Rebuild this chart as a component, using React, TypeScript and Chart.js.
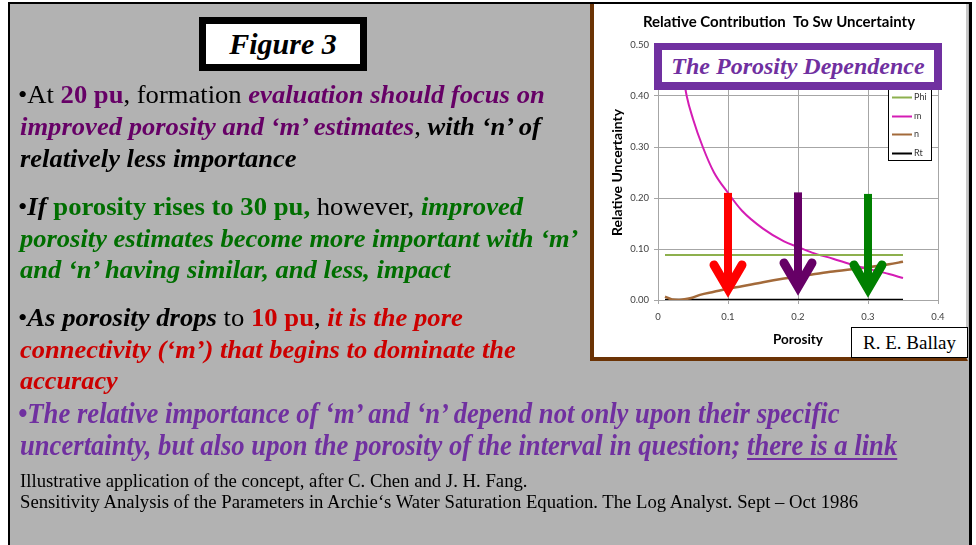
import React, { useEffect, useLayoutEffect, useRef, useState } from "react";
import { Chart, registerables } from "chart.js";
Chart.register(...registerables);

// ---------- data ----------
const porosityTicks = [0, 0.1, 0.2, 0.3, 0.4];
const porosityTickLabels = ["0", "0.1", "0.2", "0.3", "0.4"];
const uncertaintyTicks = [0, 0.1, 0.2, 0.3, 0.4, 0.5];
const uncertaintyTickLabels = ["0.00", "0.10", "0.20", "0.30", "0.40", "0.50"];

const seriesLabels = ["Phi", "m", "n", "Rt"];
const seriesColors = ["#8db04e", "#d41cb4", "#a36a3a", "#000000"];

const phiPorosity = [0.01, 0.35];
const phiValues = [0.088, 0.088];

const mPorosity = [0.025, 0.03, 0.035, 0.041, 0.05, 0.064, 0.08, 0.1, 0.12, 0.15, 0.18, 0.2, 0.22, 0.25, 0.28, 0.3, 0.33, 0.35];
const mValues = [0.6, 0.5, 0.45, 0.4, 0.355, 0.3, 0.25, 0.21, 0.175, 0.14, 0.115, 0.104, 0.093, 0.081, 0.068, 0.061, 0.051, 0.043];

const nPorosity = [0.01, 0.02, 0.03, 0.04, 0.05, 0.06, 0.08, 0.1, 0.12, 0.15, 0.18, 0.2, 0.22, 0.25, 0.28, 0.3, 0.33, 0.35];
const nValues = [0.0065, 0.001, 0.0, 0.002, 0.005, 0.01, 0.016, 0.022, 0.027, 0.035, 0.042, 0.046, 0.05, 0.056, 0.061, 0.064, 0.07, 0.075];

const rtPorosity = [0.01, 0.35];
const rtValues = [0, 0];

const arrowPorosity = [0.1, 0.2, 0.3];
const arrowTop = [0.21, 0.211, 0.208];
const arrowTip = [0.006, 0.01, 0.006];
const arrowColors = ["#ff0000", "#660066", "#008000"];

const chartTitle = "Relative Contribution  To Sw Uncertainty";
const xTitle = "Porosity";
const yTitle = "Relative Uncertainty";

const SERIF = '"Liberation Serif", "Times New Roman", serif';
const SANS = 'Lato, "Open Sans", sans-serif';

const PURPLE = "#660066";
const GREEN = "#006e00";
const RED = "#cc0000";
const VIOLET = "#7030a0";

type Seg = { t: string; c?: string; b?: boolean; i?: boolean; u?: boolean };

function FitLine(props: { left: number; cy: number; right: number; size: number; segs: Seg[] }) {
  const { left, cy, right, size, segs } = props;
  const ref = useRef<HTMLDivElement>(null);
  const [s, setS] = useState(1);
  useLayoutEffect(() => {
    const measure = () => {
      const el = ref.current;
      if (!el) return;
      const w = el.offsetWidth;
      if (w > 0) setS((right - left) / w);
    };
    measure();
    const f: any = (document as any).fonts;
    if (f && f.ready) f.ready.then(measure);
  }, []);
  const lh = Math.round(size * 1.25);
  return (
    <div
      ref={ref}
      style={{
        position: "absolute",
        left,
        top: cy - lh / 2 - size * 0.1 + 2,
        whiteSpace: "nowrap",
        fontFamily: SERIF,
        fontSize: size,
        lineHeight: lh + "px",
        transform: `scaleX(${s})`,
        transformOrigin: "left center",
        color: "#000",
      }}
    >
      {segs.map((g, k) => (
        <span
          key={k}
          style={{
            color: g.c || "#000",
            fontWeight: g.b ? "bold" : "normal",
            fontStyle: g.i ? "italic" : "normal",
            textDecoration: g.u ? "underline" : "none",
            textDecorationThickness: g.u ? "2px" : undefined,
            textUnderlineOffset: g.u ? "3px" : undefined,
          }}
        >
          {g.t}
        </span>
      ))}
    </div>
  );
}

function UncertaintyChart() {
  const canvasRef = useRef<HTMLCanvasElement>(null);
  useEffect(() => {
    const canvas = canvasRef.current;
    if (!canvas) return;
    const pts = (xs: number[], ys: number[]) => xs.map((x, i) => ({ x, y: ys[i] }));
    const seriesData = [
      pts(phiPorosity, phiValues),
      pts(mPorosity, mValues),
      pts(nPorosity, nValues),
      pts(rtPorosity, rtValues),
    ];
    const widths = [2, 2, 2.5, 2.5];

    const arrowsPlugin = {
      id: "arrows",
      afterDatasetsDraw(chart: any) {
        const { ctx } = chart;
        const xs = chart.scales.x;
        const ys = chart.scales.y;
        ctx.save();
        arrowPorosity.forEach((p, i) => {
          const x = xs.getPixelForValue(p);
          const yTop = ys.getPixelForValue(arrowTop[i]);
          const yTip = ys.getPixelForValue(arrowTip[i]);
          const vertex = yTip - 8;
          ctx.fillStyle = arrowColors[i];
          ctx.fillRect(x - 4, yTop, 8, vertex - yTop);
          ctx.strokeStyle = arrowColors[i];
          ctx.lineWidth = 9;
          ctx.lineJoin = "miter";
          ctx.lineCap = "round";
          ctx.beginPath();
          ctx.moveTo(x - 14, vertex - 24);
          ctx.lineTo(x, vertex);
          ctx.lineTo(x + 14, vertex - 24);
          ctx.stroke();
        });
        ctx.restore();
      },
    };

    const legendPlugin = {
      id: "legendBox",
      afterDraw(chart: any) {
        const { ctx } = chart;
        const right = chart.chartArea.right - 6;
        const left = right - 44;
        const top = 78;
        const bottom = 155;
        ctx.save();
        ctx.fillStyle = "#ffffff";
        ctx.fillRect(left, top, right - left, bottom - top);
        ctx.strokeStyle = "#000000";
        ctx.lineWidth = 1;
        ctx.strokeRect(left + 0.5, top + 0.5, right - left - 1, bottom - top - 1);
        chart.data.datasets.forEach((ds: any, i: number) => {
          const y = Math.round(91 + i * 18.7) + 0.5;
          ctx.strokeStyle = ds.borderColor;
          ctx.lineWidth = 2;
          ctx.beginPath();
          ctx.moveTo(left + 4, y);
          ctx.lineTo(left + 24, y);
          ctx.stroke();
          ctx.fillStyle = "#333333";
          ctx.font = `9px ${SANS}`;
          ctx.textBaseline = "middle";
          ctx.textAlign = "left";
          ctx.fillText(ds.label, left + 26, y);
        });
        ctx.restore();
      },
    };

    const chart = new Chart(canvas, {
      type: "line",
      data: {
        datasets: seriesLabels.map((label, i) => ({
          label,
          data: seriesData[i],
          borderColor: seriesColors[i],
          backgroundColor: seriesColors[i],
          borderWidth: widths[i],
          pointRadius: 0,
          cubicInterpolationMode: "monotone",
          fill: false,
          yAxisID: "y",
        })),
      },
      options: {
        animation: false,
        responsive: false,
        devicePixelRatio: 1,
        layout: { padding: { left: 0, right: 0, top: 0, bottom: 0 } },
        plugins: {
          legend: { display: false },
          tooltip: { enabled: false },
          title: {
            display: true,
            text: chartTitle,
            color: "#000",
            font: { family: SANS, size: 15, weight: "bold" },
            padding: { top: 7, bottom: 14 },
          },
        },
        scales: {
          x: {
            type: "linear",
            min: 0,
            max: 0.4,
            afterBuildTicks: (s: any) => {
              s.ticks = porosityTicks.map((v) => ({ value: v }));
            },
            afterFit: (s: any) => {
              s.height = 57;
            },
            ticks: {
              color: "#404040",
              font: { family: SANS, size: 9.5 },
              padding: 7,
              maxRotation: 0,
              callback: (v: any) => {
                const k = porosityTicks.indexOf(Number(v));
                return k >= 0 ? porosityTickLabels[k] : "";
              },
            },
            grid: { color: "#a6a6a6", tickLength: 4 },
            border: { color: "#a6a6a6" },
            title: {
              display: true,
              text: xTitle,
              color: "#000",
              font: { family: SANS, size: 13.5, weight: "bold" },
              padding: { top: 0, bottom: 8.9 },
            },
          },
          y: {
            type: "linear",
            position: "left",
            min: 0,
            max: 0.5,
            afterBuildTicks: (s: any) => {
              s.ticks = uncertaintyTicks.map((v) => ({ value: v }));
            },
            afterFit: (s: any) => {
              s.width = 64;
            },
            ticks: {
              color: "#404040",
              font: { family: SANS, size: 9.5 },
              padding: 5,
              callback: (v: any) => {
                const k = uncertaintyTicks.findIndex((t) => Math.abs(t - Number(v)) < 1e-9);
                return k >= 0 ? uncertaintyTickLabels[k] : "";
              },
            },
            grid: { color: "#a6a6a6", tickLength: 4 },
            border: { color: "#a6a6a6" },
            title: {
              display: true,
              text: yTitle,
              color: "#000",
              font: { family: SANS, size: 14, weight: "bold" },
              padding: { top: 14.6, bottom: 0 },
            },
          },
          spacer: {
            type: "linear",
            position: "right",
            min: 0,
            max: 0.5,
            display: true,
            grid: { display: false, drawTicks: false },
            border: { display: false },
            ticks: { display: false },
            afterFit: (s: any) => {
              s.width = 26;
            },
          },
        },
      } as any,
      plugins: [arrowsPlugin, legendPlugin],
    });
    return () => chart.destroy();
  }, []);
  return <canvas ref={canvasRef} width={370} height={351} style={{ display: "block" }} />;
}

export default function App() {
  const S = 26;
  return (
    <div style={{ position: "absolute", left: 0, top: 0, width: 976, height: 545, overflow: "hidden", background: "#ffffff" }}>
      {/* slide */}
      <div
        style={{
          position: "absolute",
          left: 8,
          top: 2,
          width: 964,
          height: 543,
          boxSizing: "border-box",
          background: "#b2b2b2",
          borderLeft: "2px solid #000",
          borderTop: "2px solid #000",
          borderRight: "3px solid #000",
        }}
      />
      {/* chart panel */}
      <div
        style={{
          position: "absolute",
          left: 590,
          top: 3,
          width: 378,
          height: 358,
          boxSizing: "border-box",
          background: "#ffffff",
          borderLeft: "4px solid #6b3305",
          borderBottom: "4px solid #6b3305",
          borderRight: "2px solid #c8c8c8",
        }}
      />
      <div style={{ position: "absolute", left: 594, top: 6, width: 370, height: 351 }}>
        <UncertaintyChart />
      </div>
      {/* slide frame on top */}
      <div
        style={{
          position: "absolute",
          left: 8,
          top: 2,
          width: 964,
          height: 543,
          boxSizing: "border-box",
          borderLeft: "2px solid #000",
          borderTop: "2px solid #000",
          borderRight: "3px solid #000",
          pointerEvents: "none",
        }}
      />
      {/* The Porosity Dependence */}
      <div
        style={{
          position: "absolute",
          left: 654,
          top: 43,
          width: 288,
          height: 47,
          boxSizing: "border-box",
          background: "#ffffff",
          border: "8px solid #7030a0",
          borderTopWidth: 7,
          display: "flex",
          alignItems: "center",
          justifyContent: "center",
          fontFamily: SERIF,
          fontWeight: "bold",
          fontStyle: "italic",
          fontSize: 24,
          color: VIOLET,
          whiteSpace: "nowrap",
        }}
      >
        The Porosity Dependence
      </div>
      {/* R. E. Ballay */}
      <div
        style={{
          position: "absolute",
          left: 851,
          top: 327,
          width: 117,
          height: 31,
          boxSizing: "border-box",
          background: "#ffffff",
          border: "1.5px solid #000",
          display: "flex",
          alignItems: "center",
          justifyContent: "center",
          fontFamily: SERIF,
          fontSize: 19,
          color: "#000",
          whiteSpace: "nowrap",
        }}
      >
        R. E. Ballay
      </div>
      {/* Figure 3 */}
      <div
        style={{
          position: "absolute",
          left: 199,
          top: 17,
          width: 168,
          height: 54,
          boxSizing: "border-box",
          background: "#ffffff",
          border: "7px solid #000",
          display: "flex",
          alignItems: "center",
          justifyContent: "center",
          fontFamily: SERIF,
          fontWeight: "bold",
          fontStyle: "italic",
          fontSize: 30,
          color: "#000",
        }}
      >
        Figure 3
      </div>

      <FitLine left={18} cy={95} right={545} size={S} segs={[
        { t: "•At " }, { t: "20 pu", c: PURPLE, b: true }, { t: ", formation " },
        { t: "evaluation should focus on", c: PURPLE, b: true, i: true },
      ]} />
      <FitLine left={20} cy={127} right={541} size={S} segs={[
        { t: "improved porosity and ‘m’ estimates", c: PURPLE, b: true, i: true },
        { t: ", " }, { t: "with ‘n’ of", b: true, i: true },
      ]} />
      <FitLine left={20} cy={159} right={297} size={S} segs={[{ t: "relatively less importance", b: true, i: true }]} />

      <FitLine left={18} cy={207} right={523} size={S} segs={[
        { t: "•" }, { t: "If", b: true, i: true }, { t: " porosity rises to 30 pu,", c: GREEN, b: true },
        { t: " however, " }, { t: "improved", c: GREEN, b: true, i: true },
      ]} />
      <FitLine left={20} cy={239} right={578} size={S} segs={[
        { t: "porosity estimates become more important with ‘m’", c: GREEN, b: true, i: true },
      ]} />
      <FitLine left={20} cy={270} right={450} size={S} segs={[
        { t: "and ‘n’ having similar, and less, impact", c: GREEN, b: true, i: true },
      ]} />

      <FitLine left={18} cy={318} right={463} size={S} segs={[
        { t: "•" }, { t: "As porosity drops", b: true, i: true }, { t: " to " },
        { t: "10 pu", c: RED, b: true }, { t: ", " }, { t: "it is the pore", c: RED, b: true, i: true },
      ]} />
      <FitLine left={20} cy={350} right={516} size={S} segs={[
        { t: "connectivity (‘m’) that begins to dominate the", c: RED, b: true, i: true },
      ]} />
      <FitLine left={20} cy={381} right={118} size={S} segs={[{ t: "accuracy", c: RED, b: true, i: true }]} />

      <FitLine left={18} cy={414} right={840} size={29} segs={[
        { t: "•The relative importance of ‘m’ and ‘n’ depend not only upon their specific", c: VIOLET, b: true, i: true },
      ]} />
      <FitLine left={20} cy={446} right={897} size={29} segs={[
        { t: "uncertainty, but also upon the porosity of the interval in question; ", c: VIOLET, b: true, i: true },
        { t: "there is a link", c: VIOLET, b: true, i: true, u: true },
      ]} />

      <FitLine left={20} cy={481} right={528} size={19.5} segs={[
        { t: "Illustrative application of the concept, after C. Chen and J. H. Fang." },
      ]} />
      <FitLine left={20} cy={502} right={858} size={19.5} segs={[
        { t: "Sensitivity Analysis of the Parameters in Archie‘s Water Saturation Equation. The Log Analyst. Sept – Oct 1986" },
      ]} />
    </div>
  );
}
